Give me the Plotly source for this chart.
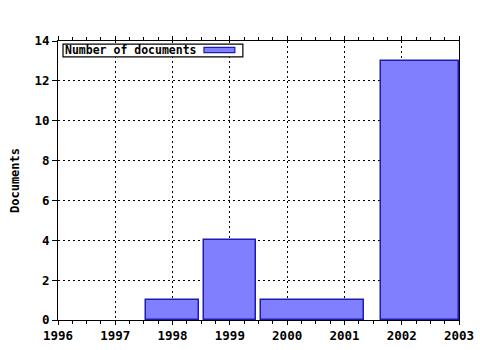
import plotly.graph_objects as go

# Data: bins (start/end in years) and document counts
bin_start = [1997.54, 1998.55, 1999.55, 2001.64]
bin_end = [1998.46, 1999.45, 2001.35, 2003.0]
counts = [1, 4, 1, 13]
series_name = "Number of documents"
x_ticks = [1996, 1997, 1998, 1999, 2000, 2001, 2002, 2003]
y_ticks = [0, 2, 4, 6, 8, 10, 12, 14]

centers = [(a + b) / 2 for a, b in zip(bin_start, bin_end)]
widths = [b - a for a, b in zip(bin_start, bin_end)]

FONT = "DejaVu Sans Mono"
fill = "#8080FF"
edge = "#1c1cb0"

fig = go.Figure()
fig.add_trace(go.Bar(
    x=centers, y=counts, width=widths, name=series_name,
    marker=dict(color=fill, line=dict(color=edge, width=1.5)),
    showlegend=False,
))

fig.update_layout(
    width=480, height=350,
    margin=dict(l=58, r=21, t=41, b=30),
    paper_bgcolor="white", plot_bgcolor="white",
    font=dict(family=FONT, size=12, color="black", weight="bold"),
    bargap=0,
)

fig.update_xaxes(
    range=[x_ticks[0], x_ticks[-1]], tickvals=x_ticks, tickformat="d",
    automargin=False,
    showline=True, linecolor="black", linewidth=1, mirror="ticks",
    ticks="outside", ticklen=4, tickcolor="black",
    minor=dict(dtick=0.25, ticks="outside", ticklen=3, tickcolor="black", showgrid=False),
    showgrid=True, gridcolor="black", gridwidth=1, griddash="2px,3px",
    zeroline=False,
    tickfont=dict(family=FONT, size=12.5, weight="bold"),
)
fig.update_yaxes(
    range=[y_ticks[0], y_ticks[-1]], tickvals=y_ticks,
    automargin=False,
    showline=True, linecolor="black", linewidth=1, mirror=True,
    ticks="outside", ticklen=5, tickcolor="black",
    showgrid=True, gridcolor="black", gridwidth=1, griddash="2px,3px",
    zeroline=False,
    title=dict(text="Documents", standoff=12, font=dict(family=FONT, size=12, weight="bold")),
    tickfont=dict(family=FONT, size=12.5, weight="bold"),
)

# Legend drawn as box: text followed by swatch
fig.add_shape(type="rect", xref="paper", yref="paper",
              x0=0.0125, x1=0.461, y0=0.943, y1=0.989,
              fillcolor="white", line=dict(color="black", width=1.2), layer="above")
fig.add_shape(type="rect", xref="paper", yref="paper",
              x0=0.364, x1=0.441, y0=0.958, y1=0.977,
              fillcolor=fill, line=dict(color=edge, width=1.2), layer="above")
fig.add_annotation(text=series_name, xref="paper", yref="paper",
                   x=0.012, y=0.966, xanchor="left", yanchor="middle",
                   showarrow=False,
                   font=dict(family=FONT, size=11.5, weight="bold", color="black"))

fig.write_html("out.html")
